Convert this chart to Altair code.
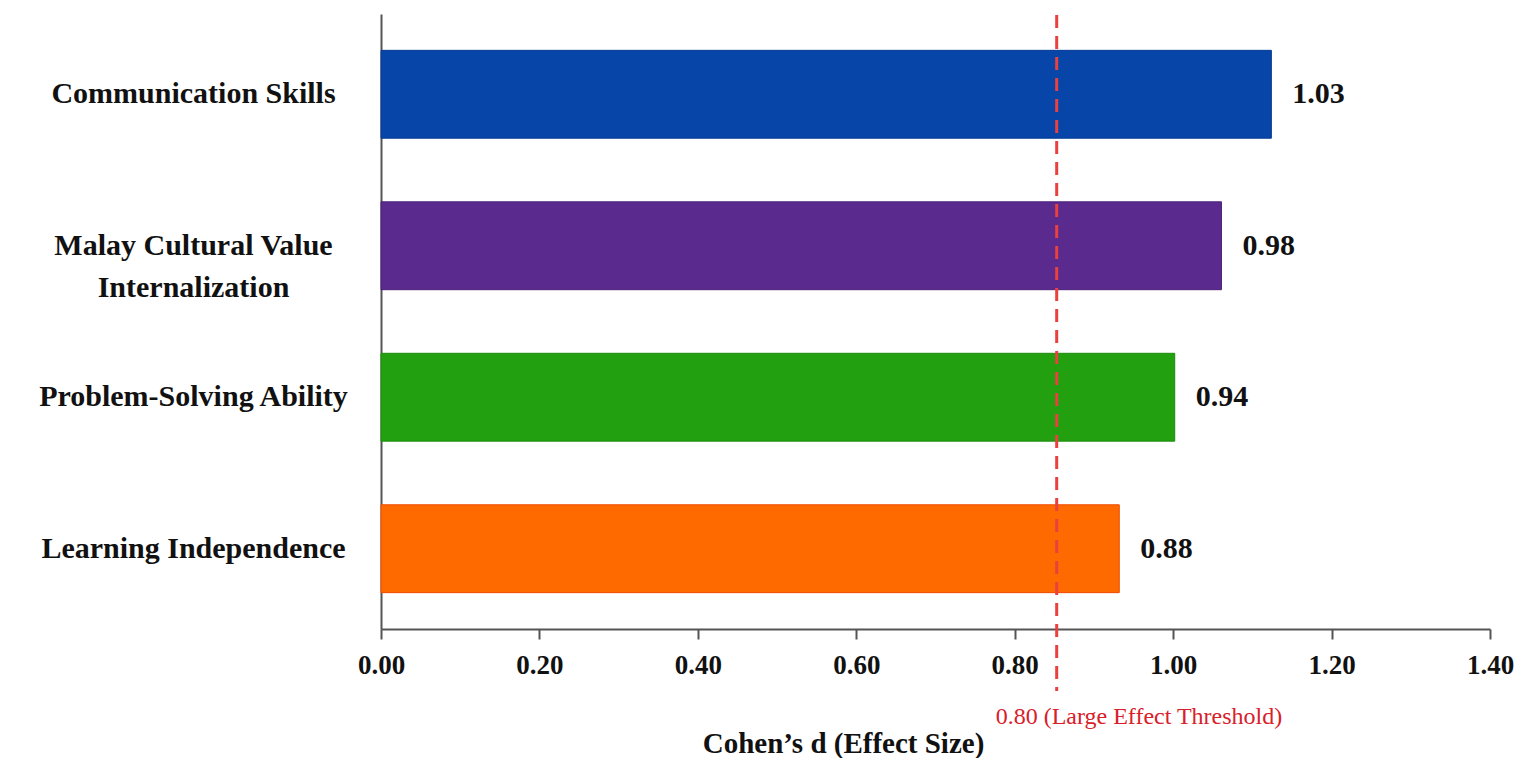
import altair as alt
import pandas as pd

categories = ["Communication Skills", "Malay Cultural Value Internalization",
              "Problem-Solving Ability", "Learning Independence"]
bar_lengths = [1.124, 1.061, 1.002, 0.932]
value_labels = ["1.03", "0.98", "0.94", "0.88"]
bar_colors = ["#0745A8", "#5B2A8E", "#22A010", "#FF6A00"]
bar_strokes = ["#063C94", "#4A1F7A", "#1C8C0C", "#F04A00"]
x_ticks = [0.0, 0.2, 0.4, 0.6, 0.8, 1.0, 1.2, 1.4]
threshold_pos = [0.853]
threshold_label = ["0.80 (Large Effect Threshold)"]

FONT = "Liberation Serif"

df = pd.DataFrame({"category": categories, "d": bar_lengths, "label": value_labels})
thr = pd.DataFrame({"x": threshold_pos, "label": threshold_label})

xscale = alt.Scale(domain=[0, 1.4], nice=False, zero=True)
yscale = alt.Scale(domain=categories, paddingInner=0.42, paddingOuter=0.24)

x_enc = alt.X("d:Q", scale=xscale,
              axis=alt.Axis(values=x_ticks, format=".2f", title="Cohen\u2019s d (Effect Size)",
                            grid=False, domainColor="#555555", domainWidth=2,
                            tickColor="#555555", tickWidth=2, tickSize=10,
                            labelFont=FONT, labelFontSize=27, labelFontWeight="bold",
                            labelColor="#111111", labelPadding=13, labelFlush=False,
                            labelAlign="center",
                            titleFont=FONT, titleFontSize=29, titleFontWeight="bold",
                            titleColor="#111111", titleX=462, titleY=123,
                            titleAlign="center", titleBaseline="alphabetic"))
y_enc = alt.Y("category:N", scale=yscale, sort=categories,
              axis=alt.Axis(title=None, ticks=False, tickSize=0, grid=False,
                            domainColor="#555555", domainWidth=2,
                            labelFont=FONT, labelFontSize=30, labelFontWeight="bold",
                            labelColor="#111111", labelAlign="center", labelBaseline="middle",
                            labelPadding=188, labelLimit=600, labelLineHeight=42,
                            minExtent=368, maxExtent=368,
                            labelExpr="datum.label == 'Malay Cultural Value Internalization' ? ['Malay Cultural Value', 'Internalization'] : datum.label"))

bars = alt.Chart(df).mark_bar(strokeWidth=1).encode(
    x=x_enc,
    y=y_enc,
    color=alt.Color("category:N", scale=alt.Scale(domain=categories, range=bar_colors), legend=None),
    stroke=alt.Stroke("category:N", scale=alt.Scale(domain=categories, range=bar_strokes), legend=None),
)

texts = alt.Chart(df).mark_text(align="left", baseline="middle", dx=21, font=FONT,
                                fontSize=30, fontWeight="bold", color="#111111").encode(
    x=alt.X("d:Q", scale=xscale),
    y=alt.Y("category:N", scale=yscale, sort=categories),
    text="label:N",
)

rule = alt.Chart(thr).mark_rule(color="#E8413E", strokeWidth=3, strokeDash=[13, 8]).encode(
    x=alt.X("x:Q", scale=xscale),
    y=alt.value(1),
    y2=alt.value(677),
)

thr_text = alt.Chart(thr).mark_text(align="left", baseline="alphabetic", dx=-61, font=FONT,
                                    fontSize=24, color="#D8202A").encode(
    x=alt.X("x:Q", scale=xscale),
    y=alt.value(710),
    text="label:N",
)

chart = alt.layer(bars, rule, texts, thr_text).properties(
    width=1109, height=615,
    padding={"left": 5, "top": 5, "right": 5, "bottom": 0},
    view=alt.ViewBackground(stroke="transparent", strokeWidth=0),
).configure_view(stroke="transparent", strokeWidth=0).configure(background="white")

chart.save("out.html", embed_options={"renderer": "svg", "actions": False})
